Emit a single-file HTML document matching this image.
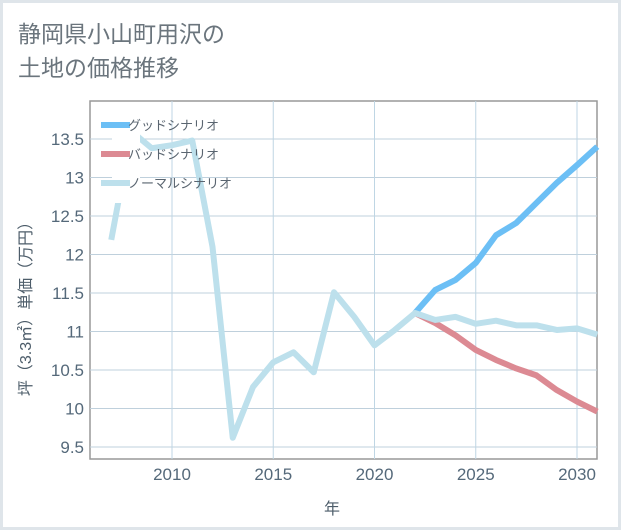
<!DOCTYPE html>
<html><head><meta charset="utf-8"><style>
body{margin:0;background:#fff;}
#wrap{position:relative;width:621px;height:530px;box-sizing:border-box;border:3px solid #dfe5ea;background:#fff;font-family:"Liberation Sans","Noto Sans CJK JP",sans-serif;}
.title{position:absolute;left:15px;top:14px;font-size:23px;line-height:34px;color:#6b757d;}
</style></head><body>
<div id="wrap">
<div class="title">静岡県小山町用沢の<br>土地の価格推移</div>
<svg id="chart" width="621" height="530" style="position:absolute;left:-3px;top:-3px"></svg>
</div>
<script>
const years=[2007,2008,2009,2010,2011,2012,2013,2014,2015,2016,2017,2018,2019,2020,2021,2022,2023,2024,2025,2026,2027,2028,2029,2030,2031];
const normalVals=[12.19,13.6,13.38,13.42,13.48,12.1,9.62,10.28,10.6,10.73,10.47,11.51,11.19,10.82,11.02,11.24,11.15,11.19,11.1,11.14,11.08,11.08,11.02,11.04,10.96];
const goodYears=[2022,2023,2024,2025,2026,2027,2028,2029,2030,2031];
const goodVals=[11.24,11.54,11.67,11.89,12.25,12.41,12.67,12.93,13.16,13.4];
const badVals=[11.24,11.11,10.95,10.76,10.63,10.52,10.43,10.24,10.09,9.96];
const yTicks=[9.5,10,10.5,11,11.5,12,12.5,13,13.5];
const yTickLabels=["9.5","10","10.5","11","11.5","12","12.5","13","13.5"];
const xTicks=[2010,2015,2020,2025,2030];
const L=90,R=597,T=101,B=459;
const xs=y=>172+(y-2010)*20.25;
const ys=v=>139+(13.5-v)*77;
const svg=document.getElementById('chart');
const NS='http://www.w3.org/2000/svg';
const FF='"Liberation Sans","Noto Sans CJK JP",sans-serif';
function mk(tag,attrs){const e=document.createElementNS(NS,tag);for(const k in attrs)e.setAttribute(k,attrs[k]);svg.appendChild(e);return e;}
let e;
e=mk('rect',{x:L,y:T,width:R-L,height:B-T,fill:'#fff',stroke:'#999','stroke-width':1.5});


yTicks.forEach((v,i)=>{
 e=mk('line',{x1:L,x2:R,y1:ys(v),y2:ys(v),stroke:'#bfd0dc','stroke-width':1});
 
 
 e=mk('text',{x:L-6,y:ys(v)+6,'text-anchor':'end','font-size':17,fill:'#55697a'});
 e.textContent=yTickLabels[i];
 
 
});
xTicks.forEach(v=>{
 e=mk('line',{x1:xs(v),x2:xs(v),y1:T,y2:B,stroke:'#bfd6e4','stroke-width':1});
 
 
 e=mk('text',{x:xs(v),y:B+21,'text-anchor':'middle','font-size':17,fill:'#55697a'});
 e.textContent=String(v);
 
 
});
function line(xv,yv,color,name){
 const pts=xv.map((x,i)=>xs(x)+','+ys(yv[i])).join(' ');
 const p=mk('polyline',{points:pts,fill:'none',stroke:color,'stroke-width':6,'stroke-linejoin':'round'});
 
 
}
line(goodYears,badVals,'#dc8a93','bad-scenario-line');
line(goodYears,goodVals,'#6cbff5','good-scenario-line');
line(years,normalVals,'#bde0ec','normal-scenario-line');
e=mk('rect',{x:112,y:112,width:28,height:91,fill:'#fff'});


const leg=[['グッドシナリオ','#6cbff5',125],['バッドシナリオ','#dc8a93',154],['ノーマルシナリオ','#bde0ec',183]];
leg.forEach(([t,c,y])=>{
 e=mk('line',{x1:101,x2:130,y1:y,y2:y,stroke:c,'stroke-width':6});
 
 
 e=mk('text',{x:128,y:y+5,'font-size':13,fill:'#5a6570','font-family':FF});
 e.textContent=t;
 
 
});
e=mk('text',{x:332,y:514,'text-anchor':'middle','font-size':16,fill:'#4d5d6a','font-family':FF});
e.textContent='年';


e=mk('text',{x:0,y:0,'text-anchor':'middle','font-size':16,fill:'#4d5d6a',transform:'translate(31,305) rotate(-90)','font-family':FF});
e.textContent='坪（3.3㎡）単価（万円）';


</script>
</body></html>
